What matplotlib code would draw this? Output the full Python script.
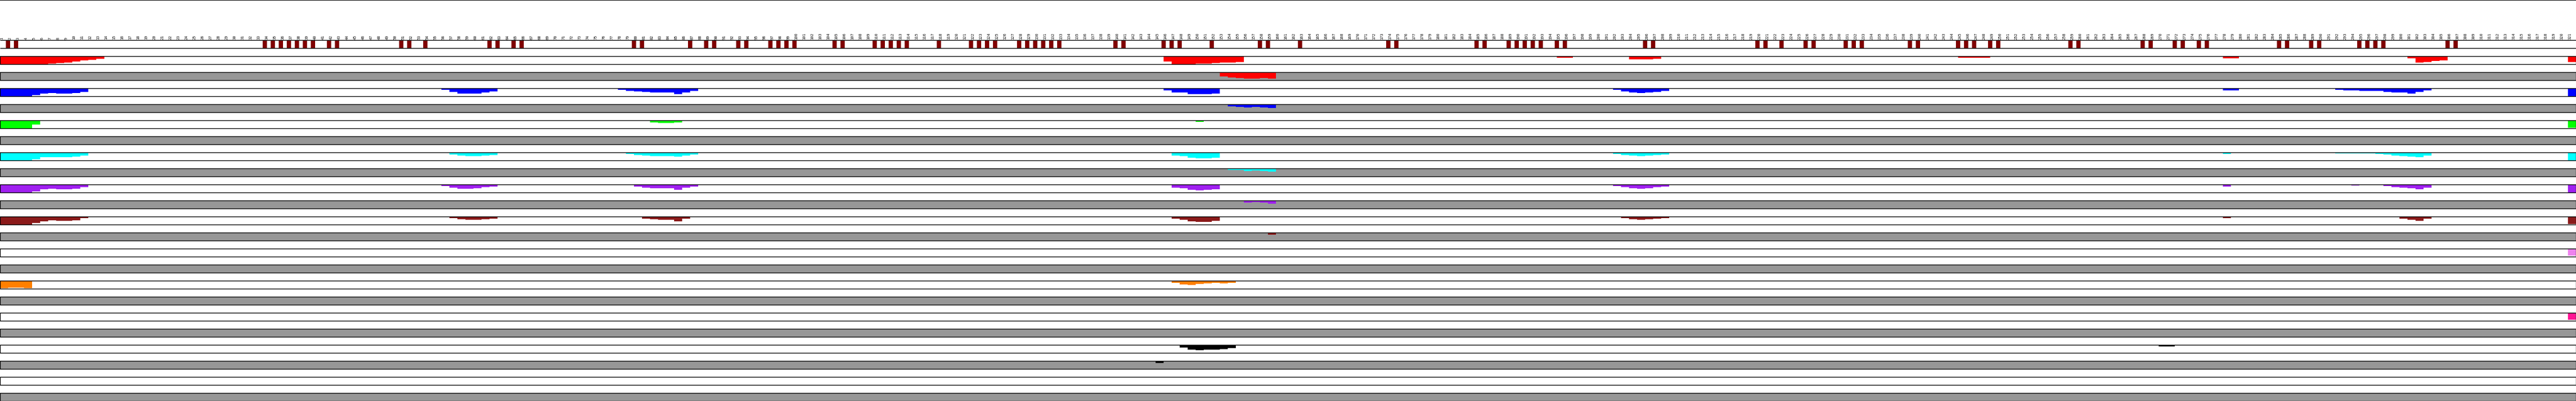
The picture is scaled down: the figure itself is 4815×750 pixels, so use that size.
import numpy as np
import matplotlib.pyplot as plt
from matplotlib.lines import Line2D

# -----------------------------
# Data
# -----------------------------
n_cols = 321
full_depth = 15.0          # value that fills a whole track

# positions flagged in the top strip
marker_cols = [2, 3, 34, 35, 36, 37, 38, 39, 40, 42, 43, 51, 52, 54, 62, 63, 65, 66,
               80, 81, 87, 89, 90, 93, 94, 97, 98, 99, 100, 105, 106,
               110, 111, 112, 113, 114, 118, 122, 123, 124, 125, 128, 129, 130, 131,
               132, 133, 140, 141, 146, 147, 148, 152, 158, 159, 163, 174, 175,
               185, 186, 189, 190, 191, 192, 193, 195, 196, 206, 207,
               220, 221, 223, 226, 227, 231, 232, 233, 239, 240, 245, 246, 247,
               249, 250, 259, 260, 268, 269, 272, 273, 275, 276, 285, 286, 289,
               290, 295, 296, 297, 298, 306, 307]

# each track: list of (first column, values)
red_a = [(1, [15, 15, 15, 15, 15, 15, 13.7, 12.7, 11.7, 9.7, 7.7, 6.7, 5]),
         (146, [9.7, 15, 15, 15, 13.7, 13.7, 12.7, 11.7, 11.7, 10.7]),
         (195, [3, 3]),
         (204, [6, 6, 6, 5]),
         (245, [3, 3, 3, 3]),
         (278, [4, 4]),
         (301, [3.7, 11.7, 10.7, 8.7, 7.7]),
         (321, [10.7])]
red_b = [(153, [7.7, 9.7, 10.7, 11.7, 11.7, 10.7, 11.7])]

blue_a = [(1, [15, 15, 15, 15, 12.7, 9.7, 8.7, 9.7, 9.7, 8.7, 7]),
          (56, [3, 7, 10, 10, 10, 8, 6]),
          (78, [3, 5, 6, 7, 8, 8, 8, 11, 8, 5]),
          (146, [3.7, 7.7, 7.7, 10.7, 10.7, 10.7, 9.7]),
          (202, [3, 6, 8, 9, 8, 7, 5]),
          (278, [4, 4]),
          (292, [3, 4, 4, 5, 4.7, 4.7, 6.7, 7.7, 7.7, 9.7, 6.7, 3.7]),
          (321, [15])]
blue_b = [(154, [4, 5, 6, 5, 6, 7])]

green_a = [(1, [15, 15, 15, 15, 8.3]),
           (82, [4, 5, 5, 4]),
           (150, [3]),
           (321, [14])]
green_b = []

cyan_a = [(1, [15, 15, 15, 15, 13, 8.7, 8.7, 8.7, 8.7, 7.7, 6]),
          (57, [4, 6, 7, 7, 6, 5]),
          (79, [3, 5, 6, 7, 7, 7, 8, 6, 4]),
          (147, [5.7, 6.7, 9.7, 10.7, 10.7, 9.7]),
          (202, [3, 5, 6, 7, 6, 5, 4]),
          (278, [3]),
          (292, [2, 2, 2, 2, 2, 2.7, 3.7, 5.7, 6.7, 7.7, 8.7, 5.7]),
          (321, [15])]
cyan_b = [(154, [3, 3, 5, 4, 5, 6])]

purple_a = [(1, [15, 15, 15, 15, 12.7, 8.7, 7.7, 8.7, 8.7, 7.7, 5]),
            (56, [3, 6, 8, 8, 7, 5, 4]),
            (80, [4, 6, 7, 7, 7, 10, 6, 4]),
            (147, [5.7, 6.7, 9.7, 10.7, 9.7, 8.7]),
            (202, [3, 5, 7, 8, 7, 5, 4]),
            (278, [4]),
            (294, [2]),
            (298, [2.7, 4.7, 5.7, 6.7, 8.7, 5.7]),
            (321, [14.7])]
purple_b = [(156, [3.7, 2.7, 3.7, 5.7])]

brown_a = [(1, [15, 15, 15, 15, 11.7, 8.7, 6.7, 7.7, 7.7, 6.7, 2.7]),
           (57, [3, 5, 6, 6, 5, 4]),
           (81, [4, 5, 6, 6, 9, 4]),
           (147, [3.7, 5.7, 8.7, 9.7, 9.7, 7.7]),
           (203, [3, 5, 6, 5, 4, 3]),
           (278, [3]),
           (300, [3.7, 5.7, 7.7, 3.7]),
           (321, [13.7])]
brown_b = [(159, [3.7])]

violet_a = [(321, [12.7])]
violet_b = []

orange_a = [(1, [14, 12.7, 12.7, 14]),
            (147, [3.7, 6.7, 7.7, 5.7, 4.7, 3.7, 4.7, 3.7])]
orange_b = []

pink_a = [(321, [12.7])]
pink_b = []

black_a = [(148, [4.7, 8.7, 9.7, 8.7, 8.7, 7.7, 5.7]),
           (270, [3, 3])]
black_b = [(145, [3.7])]

extra_a = []
extra_b = []

tracks = [
    (red_a, "#ff0000"), (red_b, "#ff0000"),
    (blue_a, "#0000ff"), (blue_b, "#0000ff"),
    (green_a, "#00ff00"), (green_b, "#00ff00"),
    (cyan_a, "#00ffff"), (cyan_b, "#00ffff"),
    (purple_a, "#a020f0"), (purple_b, "#a020f0"),
    (brown_a, "#8b1a1a"), (brown_b, "#8b1a1a"),
    (violet_a, "#ee82ee"), (violet_b, "#ee82ee"),
    (orange_a, "#ff7f00"), (orange_b, "#ff7f00"),
    (pink_a, "#ff1493"), (pink_b, "#ff1493"),
    (black_a, "#000000"), (black_b, "#000000"),
    (extra_a, "#000000"), (extra_b, "#000000"),
]

# -----------------------------
# Plot
# -----------------------------
fig = plt.figure(figsize=(48.15, 7.5), dpi=100)
ax = fig.add_axes([0, 0, 1, 675 / 750])

row_h = 0.5
ax.set_xlim(0, n_cols)
ax.set_ylim(len(tracks) + row_h, 0)
for s in ax.spines.values():
    s.set_visible(False)

# column labels along the top
ax.xaxis.tick_top()
ax.set_xticks(np.arange(n_cols) + 0.23)
ax.set_xticklabels([str(i) for i in range(1, n_cols + 1)], rotation=90,
                   fontsize=5, family="DejaVu Sans Mono")
ax.tick_params(axis="x", length=0, pad=1)
ax.set_yticks([])

# track backgrounds (white / gray alternating)
row_y = np.arange(1, len(tracks) + 1)
bg = ["white" if k % 2 == 1 else "#979797" for k in row_y]
ax.barh(row_y, n_cols, left=0, height=row_h, align="edge", color=bg, zorder=0)

# marker strip
ax.bar(np.array(marker_cols) - 1, row_h, bottom=0, width=0.47, align="center",
       color="#800000", zorder=1)
ax.hlines([0, row_h], 0, n_cols, color="black", lw=1.0, zorder=3, clip_on=False)

# coverage bars hanging from the top of each track
for k, (segs, color) in enumerate(tracks, start=1):
    for start, vals in segs:
        cols = start + np.arange(len(vals))
        ax.bar(cols - 1, np.array(vals) / full_depth * row_h, bottom=k, width=1.0,
               align="edge", color=color, linewidth=0, antialiased=False, zorder=1)

# outlines
ax.barh(row_y, n_cols, left=0, height=row_h, align="edge", fill=False,
        edgecolor="black", linewidth=1.0, zorder=3, clip_on=False)

fig.add_artist(Line2D([0, 1], [1, 1], transform=fig.transFigure,
                      color="black", lw=1.5))

fig.savefig("out.png", dpi=100)
